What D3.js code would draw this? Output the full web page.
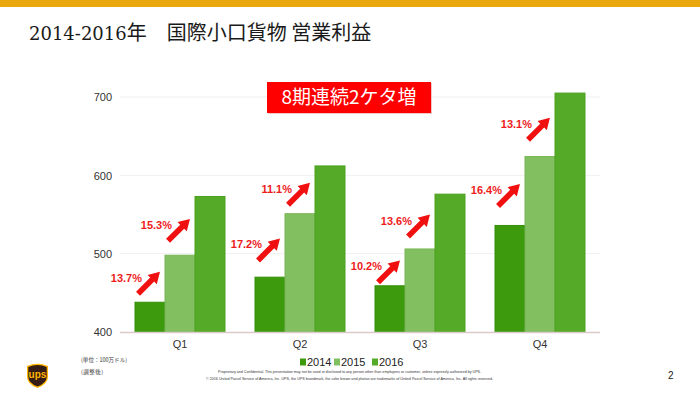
<!DOCTYPE html>
<html><head><meta charset="utf-8">
<script src="https://cdn.jsdelivr.net/npm/d3@7/dist/d3.min.js"></script>
<style>
html,body{margin:0;padding:0;background:#fff;}
svg{display:block;}
</style></head>
<body>
<svg id="chart" width="700" height="394"></svg>
<script>
const categories = ["Q1", "Q2", "Q3", "Q4"];
const years = ["2014", "2015", "2016"];
const values2014 = [438, 470, 459, 536];
const values2015 = [498, 551, 506, 624];
const values2016 = [573, 612, 576, 705];
const growth1415 = ["13.7%", "17.2%", "10.2%", "16.4%"];
const growth1516 = ["15.3%", "11.1%", "13.6%", "13.1%"];
const yTicks = [400, 500, 600, 700];
const titleYears = "2014-2016";
const titleRest = "年\u3000国際小口貨物 営業利益";
const badgeText = "8期連続2ケタ増";
const unitNote = "(単位：100万ドル)";
const adjNote = "(調整後)";
const footer1 = "Proprietary and Confidential. This presentation may not be used or disclosed to any person other than employees or customer, unless expressly authorized by UPS.";
const footer2 = "© 2016 United Parcel Service of America, Inc.  UPS, the UPS brandmark, the color brown and photos are trademarks of United Parcel Service of America, Inc.  All rights reserved.";
const pageNum = "2";

const colors = {"2014": "#3c9a0c", "2015": "#82bf61", "2016": "#55aa28"};
const strokes = {"2014": "#33900a", "2015": "#78b656", "2016": "#4ca21f"};
const series = {"2014": values2014, "2015": values2015, "2016": values2016};

const svg = d3.select("#chart");
const sans = "'Liberation Sans', Arial, 'Noto Sans CJK JP', sans-serif";

// top gold bar
svg.append("rect").attr("x", 0).attr("y", 0).attr("width", 700).attr("height", 7).attr("fill", "#e8a80e");

// title
const tt = svg.append("text").attr("x", 29).attr("y", 40).attr("fill", "#1a1a1a");
tt.append("tspan").attr("font-family", "'DejaVu Serif', serif").attr("font-size", 18).text(titleYears);
tt.append("tspan").attr("font-family", "'Noto Sans CJK JP', sans-serif").attr("font-size", 20).text(titleRest);

// scales
const x = d3.scaleBand().domain(categories).range([120, 600]).paddingInner(0.25).paddingOuter(0.125);
const xs = d3.scaleBand().domain(years).range([0, x.bandwidth()]);
const y = d3.scaleLinear().domain([400, 700]).range([332, 97]);

// gridlines
svg.append("g").selectAll("line").data(yTicks.filter(t => t > 400)).join("line")
  .attr("x1", 120).attr("x2", 600).attr("y1", d => y(d)).attr("y2", d => y(d))
  .attr("stroke", "#f1efef").attr("stroke-width", 1);

// y axis labels
const yAxis = d3.axisLeft(y).tickValues(yTicks).tickSize(0).tickPadding(0).tickFormat(d3.format("d"));
const yg = svg.append("g").attr("transform", "translate(112,0)").call(yAxis);
yg.select(".domain").remove();
yg.selectAll("text").attr("font-family", sans).attr("font-size", 11).attr("fill", "#333").attr("dy", "0.35em");

// bars
years.forEach(yr => {
  svg.append("g").selectAll("rect").data(categories).join("rect")
    .attr("x", (c) => x(c) + xs(yr))
    .attr("y", (c, i) => y(series[yr][i]))
    .attr("width", xs.bandwidth())
    .attr("height", (c, i) => y(400) - y(series[yr][i]))
    .attr("fill", colors[yr])
    .attr("stroke", strokes[yr]).attr("stroke-width", 1);
});

// baseline
svg.append("line").attr("x1", 120).attr("x2", 600).attr("y1", y(400) + 0.5).attr("y2", y(400) + 0.5)
  .attr("stroke", "#dccaca").attr("stroke-width", 1.5);

// x axis labels
const xAxis = d3.axisBottom(x).tickSize(0).tickPadding(0);
const xg = svg.append("g").attr("transform", "translate(0,340)").call(xAxis);
xg.select(".domain").remove();
xg.selectAll("text").attr("font-family", sans).attr("font-size", 11).attr("fill", "#333").attr("dy", "0.71em");

// arrows + growth labels
function arrowPath(cx, cy) {
  const L = 31, w = 2.8, hw = 6.5, hl = 11;
  const pts = [[-L/2, -w], [L/2 - hl, -w], [L/2 - hl, -hw], [L/2, 0], [L/2 - hl, hw], [L/2 - hl, w], [-L/2, w]];
  const a = -Math.PI / 4;
  return "M" + pts.map(p => [cx + p[0]*Math.cos(a) - p[1]*Math.sin(a), cy + p[0]*Math.sin(a) + p[1]*Math.cos(a)].join(",")).join("L") + "Z";
}
const ann = [];
categories.forEach((c, i) => {
  ann.push({cx: x(c) + xs("2014") + xs.bandwidth()/2 - 1, cy: (y(values2014[i]) + y(values2015[i]))/2 + 4, label: growth1415[i]});
  ann.push({cx: x(c) + xs("2015") + xs.bandwidth()/2 - 1, cy: (y(values2015[i]) + y(values2016[i]))/2 + 4, label: growth1516[i]});
});
const ag = svg.append("g");
ag.selectAll("path").data(ann).join("path").attr("d", d => arrowPath(d.cx, d.cy)).attr("fill", "#f01010");
ag.selectAll("text").data(ann).join("text")
  .attr("x", d => d.cx - 7).attr("y", d => d.cy - 1)
  .attr("text-anchor", "end").attr("font-family", sans).attr("font-weight", "bold")
  .attr("font-size", 11).attr("fill", "#ee1c1c").text(d => d.label);

// badge
svg.append("rect").attr("x", 268).attr("y", 83).attr("width", 164).attr("height", 31).attr("fill", "#f2c4c4");
svg.append("rect").attr("x", 267).attr("y", 82).attr("width", 164).attr("height", 31).attr("fill", "#ff0000");
svg.append("text").attr("x", 349).attr("y", 104).attr("text-anchor", "middle")
  .attr("font-family", "'Noto Sans CJK JP', sans-serif").attr("font-size", 19).attr("fill", "#fff").text(badgeText);

// legend
const lg = svg.append("g");
const legX = [300, 334, 372];
years.forEach((yr, i) => {
  lg.append("rect").attr("x", legX[i]).attr("y", 358.5).attr("width", 6).attr("height", 7).attr("fill", colors[yr]);
  lg.append("text").attr("x", legX[i] + 7).attr("y", 366).attr("font-family", "'Liberation Sans Narrow', 'Liberation Sans', Arial, sans-serif")
    .attr("font-size", 11).attr("fill", "#222").text(yr);
});

// notes
svg.append("text").attr("x", 81).attr("y", 362).attr("font-family", "'Noto Sans CJK JP', sans-serif")
  .attr("font-size", 5.5).attr("fill", "#333").attr("textLength", 46).text(unitNote);
svg.append("text").attr("x", 81).attr("y", 373.5).attr("font-family", "'Noto Sans CJK JP', sans-serif")
  .attr("font-size", 5.5).attr("fill", "#333").attr("textLength", 22).text(adjNote);

// footer
svg.append("text").attr("x", 218).attr("y", 372.5).attr("font-family", sans).attr("font-size", 3.6)
  .attr("fill", "#333").attr("textLength", 263).attr("lengthAdjust", "spacingAndGlyphs").text(footer1);
svg.append("text").attr("x", 206).attr("y", 379.5).attr("font-family", sans).attr("font-size", 3.6)
  .attr("fill", "#333").attr("textLength", 287).attr("lengthAdjust", "spacingAndGlyphs").text(footer2);

svg.append("text").attr("x", 668).attr("y", 379).attr("font-family", sans).attr("font-size", 10)
  .attr("fill", "#222").text(pageNum);

// UPS logo shield
const logo = svg.append("g").attr("transform", "translate(27,363)");
logo.append("path").attr("d", "M0,3 Q10,-1.5 21,3 L21,14 Q21,21 10.5,25 Q0,21 0,14 Z").attr("fill", "#ffb500");
logo.append("path").attr("d", "M1.3,3.9 Q10.5,0 19.7,3.9 L19.7,13.8 Q19.7,20 10.5,23.6 Q1.3,20 1.3,13.8 Z").attr("fill", "#351c15");
logo.append("text").attr("x", 10.5).attr("y", 15).attr("text-anchor", "middle").attr("font-family", sans)
  .attr("font-weight", "bold").attr("font-size", 10).attr("fill", "#ffb500").text("ups");
</script>
</body></html>
